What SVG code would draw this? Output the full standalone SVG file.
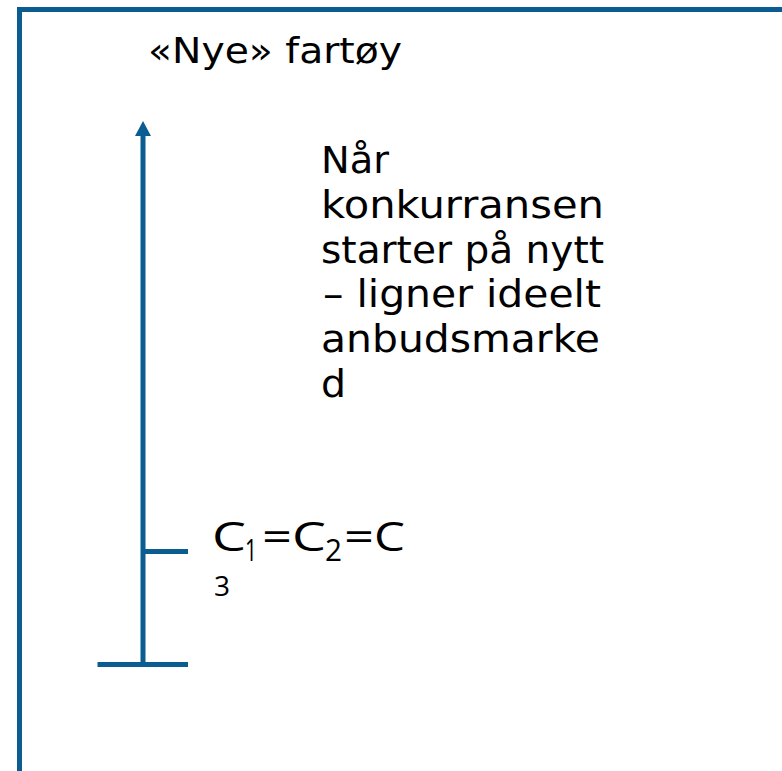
<svg xmlns="http://www.w3.org/2000/svg" width="782" height="771" viewBox="0 0 782 771">
  <style>
    .frame { fill: #ffffff; stroke: #0a5c91; stroke-width: 5; }
    .axis { stroke: #0a5c91; stroke-width: 5; fill: none; }
    .title { font-family: "DejaVu Sans", "Liberation Sans", sans-serif; font-size: 35px; fill: #000000; }
    .body { font-family: "DejaVu Sans", "Liberation Sans", sans-serif; font-size: 36.5px; fill: #000000; }
    .chem { font-family: "Open Sans", "DejaVu Sans", sans-serif; fill: #000000; }
  </style>
  <defs>
    <marker id="arrowhead" markerUnits="userSpaceOnUse" markerWidth="16" markerHeight="16" refX="6" refY="8" orient="auto">
      <path d="M0,0 L15,8 L0,16 Z" fill="#0a5c91"/>
    </marker>
  </defs>

  <!-- outer panel -->
  <rect class="frame" x="19.5" y="9.5" width="765" height="780"/>

  <!-- vertical axis with tick marks -->
  <g id="connectors">
    <line class="axis" x1="143" y1="665" x2="143" y2="130" marker-end="url(#arrowhead)"/>
  </g>
  <g id="tick-c">
    <line class="axis" x1="143" y1="551.5" x2="188" y2="551.5"/>
  </g>
  <g id="tick-base">
    <line class="axis" x1="97.5" y1="664.5" x2="188" y2="664.5"/>
  </g>

  <g id="title">
    <text class="title" x="148" y="63" textLength="254" lengthAdjust="spacingAndGlyphs">«Nye» fartøy</text>
  </g>

  <g id="description">
    <text class="body" x="321" y="173" textLength="68" lengthAdjust="spacingAndGlyphs">Når</text>
    <text class="body" x="321" y="218" textLength="283" lengthAdjust="spacingAndGlyphs">konkurransen</text>
    <text class="body" x="321" y="263" textLength="283" lengthAdjust="spacingAndGlyphs">starter på nytt</text>
    <text class="body" x="323" y="307" textLength="278" lengthAdjust="spacingAndGlyphs">– ligner ideelt</text>
    <text class="body" x="321" y="352" textLength="279" lengthAdjust="spacingAndGlyphs">anbudsmarke</text>
    <text class="body" x="321" y="397" textLength="25" lengthAdjust="spacingAndGlyphs">d</text>
  </g>

  <g id="label-c">
    <text class="chem" font-size="40" x="212" y="551" textLength="34" lengthAdjust="spacingAndGlyphs">C</text>
    <text class="chem" font-size="31" x="245" y="561" textLength="12" lengthAdjust="spacingAndGlyphs">1</text>
    <text class="chem" font-size="40" x="262" y="551" textLength="30" lengthAdjust="spacingAndGlyphs">=</text>
    <text class="chem" font-size="40" x="292" y="551" textLength="34" lengthAdjust="spacingAndGlyphs">C</text>
    <text class="chem" font-size="31" x="325" y="561" textLength="17" lengthAdjust="spacingAndGlyphs">2</text>
    <text class="chem" font-size="40" x="344" y="551" textLength="30" lengthAdjust="spacingAndGlyphs">=</text>
    <text class="chem" font-size="40" x="374" y="551" textLength="31" lengthAdjust="spacingAndGlyphs">C</text>
    <text class="chem" font-size="28" x="214" y="596">3</text>
  </g>
</svg>
